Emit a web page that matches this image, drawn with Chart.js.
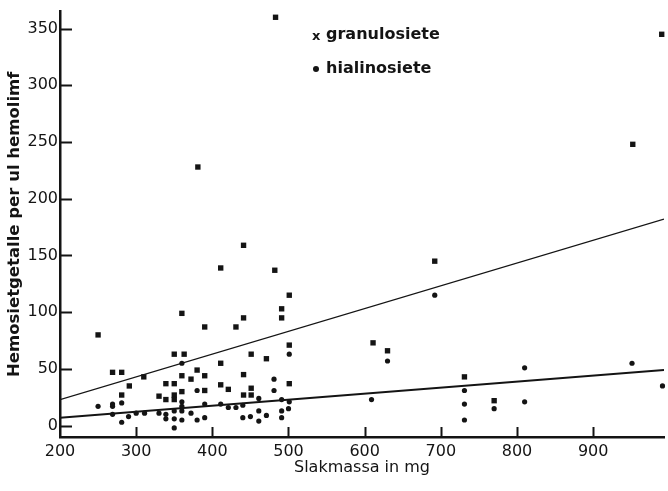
<!DOCTYPE html>
<html>
<head>
<meta charset="utf-8">
<script src="https://cdn.jsdelivr.net/npm/chart.js@4/dist/chart.umd.min.js"></script>
<style>
  html, body { margin: 0; padding: 0; background: #fff; }
  #wrap { width: 668px; height: 491px; position: relative; }
</style>
</head>
<body>
<div id="wrap"><canvas id="c"></canvas></div>
<script>
// ---- data ----
const xTicks = [200, 300, 400, 500, 600, 700, 800, 900];
const yTicks = [0, 50, 100, 150, 200, 250, 300, 350];

const granulosiete = [
  [250,80],[269,47],[281,47],[291,35],[310,43],[281,27],[330,26],[339,37],[350,37],[339,23],
  [350,27],[350,23],[350,63],[363,63],[360,44],[360,30],[360,99],[372,41],[380,49],[390,44],
  [390,31],[381,228],[390,87],[411,139],[411,55],[411,36],[421,32],[431,87],[441,159],[441,45],
  [441,27],[451,63],[451,33],[451,27],[471,59],[483,360],[482,137],[491,103],[491,95],[501,115],
  [501,71],[501,37],[611,73],[630,66],[692,145],[731,43],[770,22],[952,248],[990,345],[441,95]
];
const hialinosiete = [
  [250,17],[269,19],[281,20],[269,10],[281,3],[290,8],[300,11],[311,11],[330,11],[339,10],
  [339,6],[350,13],[350,6],[350,-2],[360,55],[360,21],[360,17],[360,13],[360,5],[372,11],
  [380,31],[380,5],[390,19],[390,7],[411,19],[421,16],[431,16],[440,18],[440,7],[450,8],
  [461,24],[461,13],[461,4],[471,9],[481,41],[481,31],[491,23],[491,13],[491,7],[500,15],
  [501,63],[501,21],[609,23],[630,57],[692,115],[731,31],[731,19],[731,5],[770,15],[810,51],
  [810,21],[951,55],[991,35],[269,17]
];
// regression lines: [x, y] endpoints
const granLine = [[200,23],[993,182]];
const hialLine = [[200,7],[993,49]];

const toXY = a => a.map(p => ({x: p[0], y: p[1]}));
const INK = '#141414';

const inwardTicks = {
  id: 'inwardTicks',
  afterDraw(chart) {
    const ctx = chart.ctx, xs = chart.scales.x, ys = chart.scales.y;
    ctx.save();
    ctx.strokeStyle = INK;
    ctx.lineWidth = 2;
    ctx.beginPath();
    yTicks.forEach(v => {
      const py = Math.round(ys.getPixelForValue(v)) + 0.5;
      ctx.moveTo(xs.left, py); ctx.lineTo(xs.left + 12, py);
    });
    xTicks.forEach(v => {
      if (v === 200) return;
      const px = Math.round(xs.getPixelForValue(v)) + 0.5;
      ctx.moveTo(px, ys.bottom); ctx.lineTo(px, ys.bottom - 10);
    });
    ctx.stroke();
    // legend
    ctx.fillStyle = INK;
    ctx.font = 'bold 16px "DejaVu Sans"';
    ctx.textBaseline = 'middle';
    ctx.textAlign = 'left';
    ctx.font = 'bold 13px "DejaVu Sans"';
    ctx.fillText('x', 312, 37);
    ctx.font = 'bold 16px "DejaVu Sans"';
    ctx.fillText('granulosiete', 326, 35);
    ctx.beginPath();
    ctx.arc(316, 69, 3, 0, Math.PI * 2);
    ctx.fill();
    ctx.fillText('hialinosiete', 326, 69);
    ctx.restore();
  }
};

new Chart(document.getElementById('c'), {
  type: 'scatter',
  data: {
    datasets: [
      { label: 'granulosiete', data: toXY(granulosiete), pointStyle: 'rect', pointRadius: 3.8,
        backgroundColor: INK, borderColor: INK, borderWidth: 0, clip: false },
      { label: 'hialinosiete', data: toXY(hialinosiete), pointStyle: 'circle', pointRadius: 2.6,
        backgroundColor: INK, borderColor: INK, borderWidth: 0, clip: false },
      { type: 'line', label: 'granLine', data: toXY(granLine), borderColor: INK, borderWidth: 1.2,
        pointRadius: 0, fill: false },
      { type: 'line', label: 'hialLine', data: toXY(hialLine), borderColor: INK, borderWidth: 2,
        pointRadius: 0, fill: false }
    ]
  },
  options: {
    responsive: true,
    maintainAspectRatio: false,
    animation: false,
    layout: { padding: 0 },
    plugins: { legend: { display: false }, tooltip: { enabled: false } },
    scales: {
      x: {
        type: 'linear', min: 200, max: 993,
        afterBuildTicks: s => { s.ticks = xTicks.map(v => ({value: v})); },
        afterFit: s => { s.height = 54; },
        grid: { display: false, drawTicks: false },
        border: { display: true, color: INK, width: 2.5 },
        ticks: { color: INK, font: { family: 'DejaVu Sans', size: 16 }, padding: 5, maxRotation: 0, autoSkip: false },
        title: { display: true, text: 'Slakmassa in mg', color: INK,
                 font: { family: 'DejaVu Sans', size: 16 }, padding: { top: 0, bottom: 14 } }
      },
      y: {
        type: 'linear', min: -10, max: 365,
        afterBuildTicks: s => { s.ticks = yTicks.map(v => ({value: v})); },
        afterFit: s => { s.width = 60; },
        grid: { display: false, drawTicks: false },
        border: { display: true, color: INK, width: 2.5 },
        ticks: { color: INK, font: { family: 'DejaVu Sans', size: 16 }, padding: 2, autoSkip: false },
        title: { display: true, text: 'Hemosietgetalle per ul hemolimf', color: INK,
                 font: { family: 'DejaVu Sans', size: 16.5, weight: 'bold' }, padding: { top: 5, bottom: 0 } }
      }
    }
  },
  plugins: [inwardTicks]
});
</script>
</body>
</html>
